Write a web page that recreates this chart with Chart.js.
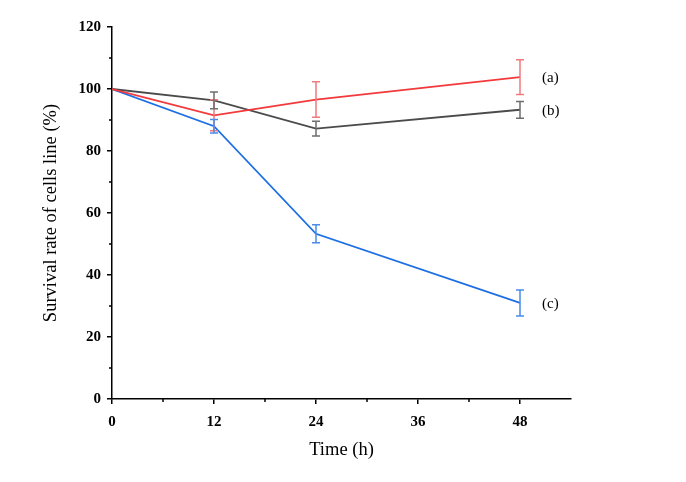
<!DOCTYPE html>
<html>
<head>
<meta charset="utf-8">
<script src="https://cdn.jsdelivr.net/npm/chart.js@4/dist/chart.umd.min.js"></script>
<style>
  body { margin: 0; background: #fff; }
  #wrap { width: 686px; height: 482px; }
</style>
</head>
<body>
<div id="wrap"><canvas id="myChart"></canvas></div>
<script>
// time points (h)
var hours = [0, 12, 24, 48];
// survival rate (%) and error (sd) per series
var seriesA = [100, 91.5, 96.6, 103.8];
var errA = [0, 5, 5.7, 5.6];
var seriesB = [100, 96.3, 87.2, 93.3];
var errB = [0, 2.7, 2.4, 2.7];
var seriesC = [100, 88, 53.3, 31];
var errC = [0, 2.2, 2.9, 4.2];
var seriesNames = ['(a)', '(b)', '(c)'];

var serif = "'Liberation Serif', 'Times New Roman', serif";

function pts(vals) {
    return hours.map(function (h, i) { return { x: h, y: vals[i] }; });
}

// error bars + end labels + minor ticks
var extras = {
    id: 'extras',
    afterDatasetsDraw: function (chart) {
        var c = chart.ctx, xs = chart.scales.x, ys = chart.scales.y;
        chart.data.datasets.forEach(function (ds) {
            c.save();
            c.strokeStyle = ds.errColor;
            c.lineWidth = 1.5;
            ds.data.forEach(function (p, i) {
                var e = ds.err[i];
                if (!e) return;
                var px = xs.getPixelForValue(p.x);
                var top = ys.getPixelForValue(p.y + e), bot = ys.getPixelForValue(p.y - e);
                c.beginPath();
                c.moveTo(px, top); c.lineTo(px, bot);
                c.moveTo(px - 4, top); c.lineTo(px + 4, top);
                c.moveTo(px - 4, bot); c.lineTo(px + 4, bot);
                c.stroke();
            });
            var last = ds.data[ds.data.length - 1];
            c.fillStyle = '#000';
            c.font = '15px ' + serif;
            c.textBaseline = 'middle';
            c.fillText(ds.label, xs.getPixelForValue(last.x) + 22, ys.getPixelForValue(last.y) + 1);
            c.restore();
        });
        // minor ticks
        c.save();
        c.strokeStyle = '#000';
        c.lineWidth = 1.5;
        c.beginPath();
        [6, 18, 30, 42].forEach(function (v) {
            var px = xs.getPixelForValue(v);
            c.moveTo(px, xs.top); c.lineTo(px, xs.top + 3);
        });
        [10, 30, 50, 70, 90, 110].forEach(function (v) {
            var py = ys.getPixelForValue(v);
            c.moveTo(ys.right, py); c.lineTo(ys.right - 3, py);
        });
        c.stroke();
        c.restore();
    }
};

var ctx = document.getElementById('myChart').getContext('2d');
var myChart = new Chart(ctx, {
    type: 'line',
    data: {
        datasets: [{
            label: seriesNames[0],
            data: pts(seriesA),
            err: errA,
            borderColor: '#f2393c',
            errColor: '#f07a7c',
            borderWidth: 1.8,
            pointRadius: 0,
            tension: 0
        }, {
            label: seriesNames[1],
            data: pts(seriesB),
            err: errB,
            borderColor: '#4b4b4b',
            errColor: '#6e6e6e',
            borderWidth: 1.8,
            pointRadius: 0,
            tension: 0
        }, {
            label: seriesNames[2],
            data: pts(seriesC),
            err: errC,
            borderColor: '#1d6fe3',
            errColor: '#4a8ce8',
            borderWidth: 1.8,
            pointRadius: 0,
            tension: 0
        }]
    },
    options: {
        responsive: true,
        maintainAspectRatio: false,
        animation: false,
        layout: { padding: { top: 27, right: 115, left: 36, bottom: 17 } },
        plugins: {
            legend: { display: false },
            tooltip: { enabled: false }
        },
        scales: {
            x: {
                type: 'linear',
                min: 0,
                max: 54,
                afterFit: function (s) { s.height = 66; },
                afterBuildTicks: function (s) {
                    s.ticks = [0, 12, 24, 36, 48].map(function (v) { return { value: v }; });
                },
                border: { display: true, color: '#000', width: 1.5 },
                grid: { drawOnChartArea: false, drawTicks: true, tickLength: 5, color: '#000', lineWidth: 1.5 },
                ticks: { color: '#000', padding: 9, font: { family: serif, size: 15, weight: 'bold' } },
                title: { display: true, text: 'Time (h)', color: '#000', padding: { top: 8 }, font: { family: serif, size: 18.5 } }
            },
            y: {
                min: 0,
                max: 120,
                afterFit: function (s) { s.width = 76; },
                border: { display: true, color: '#000', width: 1.5 },
                grid: { drawOnChartArea: false, drawTicks: true, tickLength: 5, color: '#000', lineWidth: 1.5 },
                ticks: { stepSize: 20, color: '#000', padding: 6, font: { family: serif, size: 15, weight: 'bold' } },
                title: { display: true, text: 'Survival rate of cells line (%)', color: '#000', padding: { bottom: 14 }, font: { family: serif, size: 18.5 } }
            }
        }
    },
    plugins: [extras]
});
</script>
</body>
</html>
